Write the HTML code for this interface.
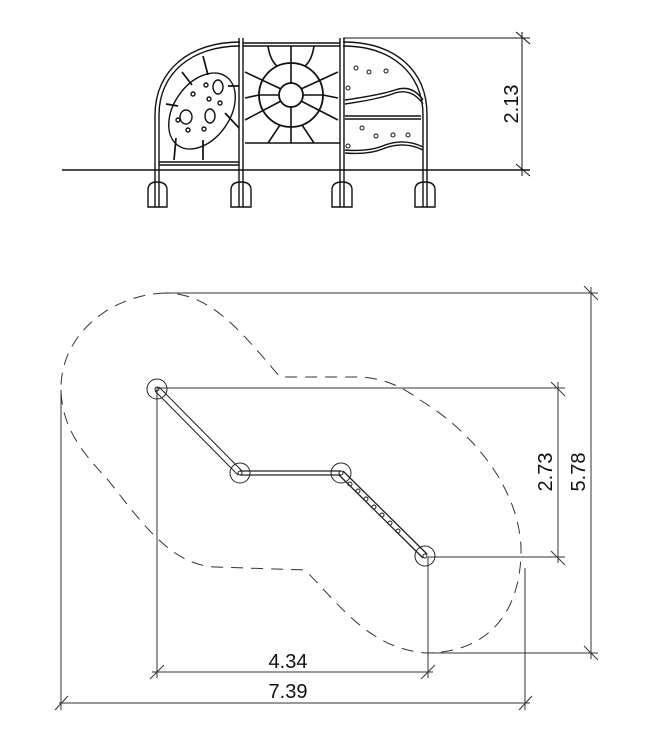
<!DOCTYPE html>
<html><head><style>html,body{margin:0;padding:0;background:#fff}svg{display:block}</style></head>
<body>
<svg width="660" height="735" viewBox="0 0 660 735" xmlns="http://www.w3.org/2000/svg" font-family="Liberation Sans, sans-serif">
<g fill="none" stroke="#111" stroke-width="1.4">
<line x1="62" y1="170" x2="530" y2="170" stroke-width="1.6"/>
<line x1="343" y1="38" x2="530" y2="38" stroke-width="1"/>
<line x1="522" y1="32" x2="522" y2="176" stroke-width="1"/>
<line x1="516" y1="32" x2="530" y2="44" stroke-width="1"/>
<line x1="516" y1="164" x2="530" y2="176" stroke-width="1"/>
<path d="M155,207 V115 C155,70 190,42 240,42"/>
<path d="M159,207 V115 C159,73 192,46 240,46"/>
<path d="M343,42 C395,42 427,70 427,115 V207"/>
<path d="M343,46 C391,46 423,73 423,115 V207"/>
<line x1="239" y1="38" x2="239" y2="207"/><line x1="243" y1="38" x2="243" y2="207"/>
<line x1="340" y1="38" x2="340" y2="207"/><line x1="344" y1="38" x2="344" y2="207"/>
<line x1="243" y1="43" x2="340" y2="43"/><line x1="243" y1="46" x2="340" y2="46"/>
<line x1="245" y1="143" x2="340" y2="143"/>
<path d="M148,207 V190 Q148,182 157,182 Q167,182 167,190 V207 Z"/>
<path d="M231,207 V190 Q231,182 241,182 Q251,182 251,190 V207 Z"/>
<path d="M332,207 V190 Q332,182 342,182 Q352,182 352,190 V207 Z"/>
<path d="M415,207 V190 Q415,182 425,182 Q435,182 435,190 V207 Z"/>
<line x1="159" y1="162" x2="239" y2="162"/><line x1="159" y1="165" x2="239" y2="165"/>
<ellipse cx="202" cy="111" rx="28" ry="42" transform="rotate(35 202 111)"/>
<ellipse cx="218" cy="87" rx="5" ry="7"/><ellipse cx="186" cy="117" rx="6" ry="7"/><ellipse cx="210" cy="116" rx="5" ry="7"/>
<circle cx="193" cy="94" r="2"/><circle cx="209" cy="99" r="2"/><circle cx="220" cy="103" r="2"/><circle cx="178" cy="120" r="2"/><circle cx="188" cy="130" r="2"/><circle cx="204" cy="129" r="2"/><circle cx="206" cy="85" r="2"/>
<g stroke-width="1.7"><line x1="203" y1="56" x2="208" y2="75"/><line x1="182" y1="72" x2="192" y2="85"/><line x1="166" y1="104" x2="178" y2="106"/><line x1="176" y1="138" x2="174" y2="160"/><line x1="203" y1="140" x2="203" y2="160"/><line x1="225" y1="113" x2="239" y2="128"/><line x1="228" y1="86" x2="239" y2="86"/></g>
<circle cx="291" cy="95" r="32" stroke-width="1.8"/><circle cx="291" cy="95" r="12" stroke-width="1.8"/>
<g stroke-width="1.6">
<line x1="279" y1="95" x2="259" y2="95"/><line x1="303" y1="95" x2="323" y2="95"/>
<line x1="291" y1="83" x2="291" y2="63"/><line x1="291" y1="107" x2="291" y2="127"/>
<line x1="281" y1="89" x2="245" y2="72"/><line x1="301" y1="89" x2="338" y2="72"/>
<line x1="281" y1="101" x2="245" y2="120"/><line x1="301" y1="101" x2="338" y2="120"/>
<line x1="291" y1="127" x2="291" y2="143"/><line x1="291" y1="63" x2="291" y2="46"/>
<line x1="280" y1="125" x2="268" y2="143"/><line x1="302" y1="125" x2="314" y2="143"/>
<path d="M268,46 Q270,60 277,66"/><path d="M314,46 Q312,60 305,66"/>
<line x1="259" y1="95" x2="245" y2="98"/><line x1="323" y1="95" x2="338" y2="98"/>
</g>
<path d="M345,100 Q380,95 395,90 Q412,84 423,100"/>
<path d="M345,104 Q380,99 395,93 Q412,88 423,104"/>
<line x1="345" y1="116" x2="421" y2="116"/><line x1="345" y1="119" x2="421" y2="119"/>
<path d="M345,150 Q370,152 385,145 Q405,138 423,147"/>
<path d="M345,153 Q370,155 385,148 Q405,141 423,150"/>
<g stroke-width="1"><circle cx="356" cy="68" r="2"/><circle cx="369" cy="72" r="2"/><circle cx="386" cy="71" r="2"/><circle cx="348" cy="88" r="2"/><circle cx="362" cy="128" r="2"/><circle cx="376" cy="136" r="2"/><circle cx="393" cy="135" r="2"/><circle cx="348" cy="146" r="2"/><circle cx="408" cy="135" r="2"/></g>
</g>
<text transform="translate(518,104) rotate(-90)" font-size="20" text-anchor="middle" fill="#111">2.13</text>

<g fill="none" stroke="#333" stroke-width="1">
<path d="M165,293 C110,295 60,335 61,390 C62,430 85,455 108,480 C140,520 170,565 215,567 L305,570 C340,605 370,650 428,653 C490,652 522,610 521,547 C518,485 470,430 420,400 C400,385 380,377 356,377 L280,377 C240,330 210,293 165,293 Z" stroke-dasharray="12,8"/>
</g>
<g fill="none" stroke="#333" stroke-width="1">
<line x1="157" y1="388" x2="565" y2="388"/>
<line x1="428" y1="557" x2="565" y2="557"/>
<line x1="558" y1="382" x2="558" y2="563"/>
<line x1="551" y1="382" x2="565" y2="396"/><line x1="551" y1="551" x2="565" y2="565"/>
<line x1="165" y1="293" x2="598" y2="293"/>
<line x1="431" y1="653" x2="598" y2="653"/>
<line x1="591" y1="287" x2="591" y2="659"/>
<line x1="584" y1="286" x2="598" y2="300"/><line x1="584" y1="646" x2="598" y2="660"/>
<line x1="157" y1="388" x2="157" y2="678"/>
<line x1="428" y1="557" x2="428" y2="678"/>
<line x1="152" y1="672" x2="433" y2="672"/>
<line x1="150" y1="679" x2="164" y2="665"/><line x1="421" y1="679" x2="435" y2="665"/>
<line x1="61" y1="390" x2="61" y2="710"/>
<line x1="525" y1="568" x2="525" y2="710"/>
<line x1="59" y1="703" x2="530" y2="703"/>
<line x1="55" y1="710" x2="68" y2="696"/><line x1="519" y1="710" x2="532" y2="696"/>
</g>
<g fill="none" stroke="#222" stroke-width="1">
<circle cx="157" cy="389" r="10"/><circle cx="240" cy="473" r="10"/><circle cx="341" cy="473" r="10"/><circle cx="425" cy="556" r="10"/>
<path d="M155,391 L238,475 M159,387 L242,471"/>
<path d="M240,471 H341 M240,475 H341" stroke-width="1.3"/>
<path d="M339,475 L423,558 M343,471 L427,554" stroke-width="1.3"/>
<g stroke-width="1"><circle cx="350" cy="484" r="2"/><circle cx="358" cy="491" r="2"/><circle cx="366" cy="499" r="2"/><circle cx="374" cy="507" r="2"/><circle cx="382" cy="515" r="2"/><circle cx="390" cy="523" r="2"/><circle cx="398" cy="531" r="2"/></g>
<circle cx="157" cy="389" r="2"/><circle cx="240" cy="473" r="2"/><circle cx="341" cy="473" r="2"/><circle cx="425" cy="556" r="2"/>
</g>
<g font-size="20" fill="#111" text-anchor="middle">
<text x="288" y="668">4.34</text>
<text x="288" y="698">7.39</text>
<text transform="translate(552,472) rotate(-90)">2.73</text>
<text transform="translate(585,472) rotate(-90)">5.78</text>
</g>
</svg>
</body></html>
